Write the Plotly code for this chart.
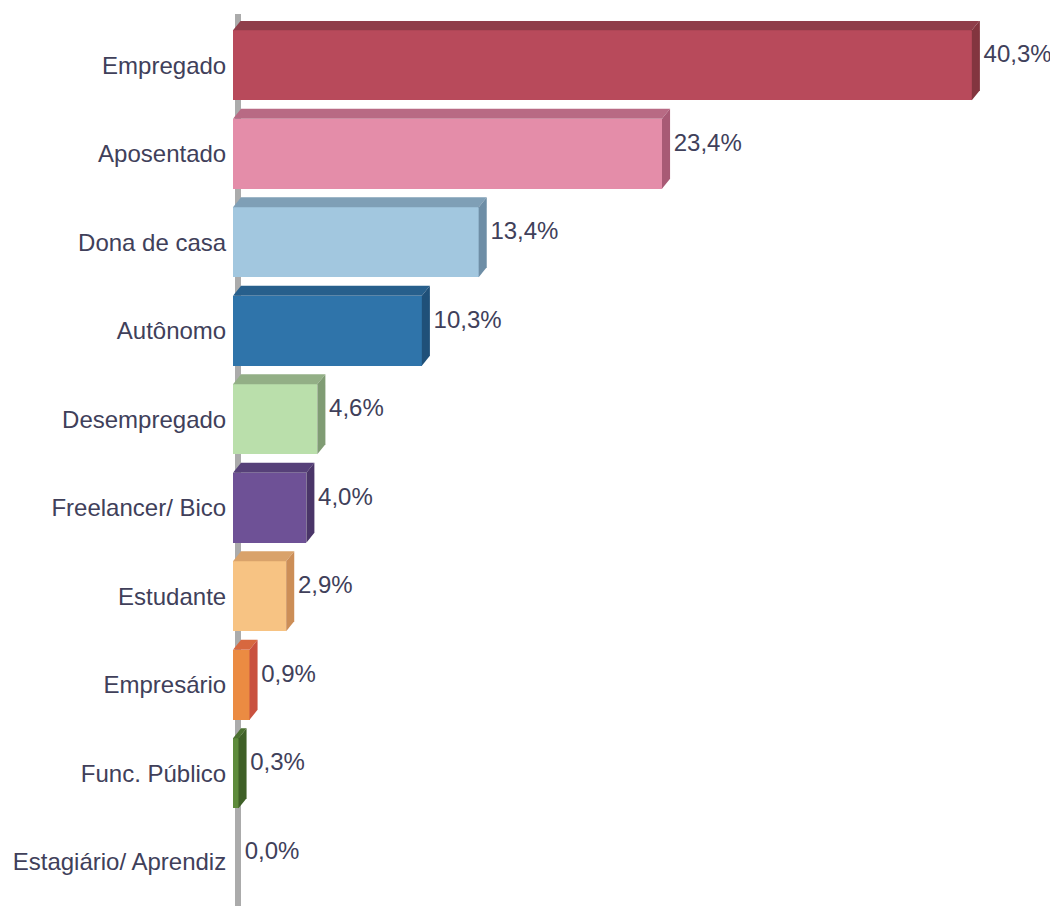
import plotly.graph_objects as go

categories = ["Empregado", "Aposentado", "Dona de casa", "Autônomo", "Desempregado",
              "Freelancer/ Bico", "Estudante", "Empresário", "Func. Público", "Estagiário/ Aprendiz"]
values = [40.3, 23.4, 13.4, 10.3, 4.6, 4.0, 2.9, 0.9, 0.3, 0.0]
labels = ["40,3%", "23,4%", "13,4%", "10,3%", "4,6%", "4,0%", "2,9%", "0,9%", "0,3%", "0,0%"]

front_colors = ["#B84A5B", "#E48DA9", "#A2C7DF", "#2F74AA", "#BADFAB",
                "#6E5196", "#F7C383", "#EB8B42", "#5E8B3C", "#E9A070"]
top_colors = ["#8F3E4A", "#B86A84", "#7F9FB6", "#275F8C", "#93AF86",
              "#564078", "#D9A26A", "#D7683F", "#4B7030", "#C98050"]
side_colors = ["#83353F", "#A85A75", "#6E8EA6", "#1F5079", "#809C74",
               "#4A3568", "#CC8E57", "#C9513F", "#3F6027", "#B87040"]

FONT = "Liberation Sans, Arial, sans-serif"
TXT = "#40405a"

bar_w = 0.79      # category units
dx = 0.44         # depth in value units
dy = 0.113        # depth in category units

ypos = list(range(len(categories)))

fig = go.Figure()

fig.add_trace(go.Bar(
    x=values, y=ypos, orientation="h", width=bar_w,
    marker=dict(color=front_colors, line=dict(width=0)),
    hoverinfo="skip", showlegend=False,
))

for i, v in enumerate(values):
    if v <= 0:
        continue
    y0 = i - bar_w / 2
    y1 = i + bar_w / 2
    # top face
    fig.add_trace(go.Scatter(
        x=[0, v, v + dx, dx, 0], y=[y0, y0, y0 - dy, y0 - dy, y0],
        fill="toself", fillcolor=top_colors[i], mode="lines", line=dict(width=0),
        hoverinfo="skip", showlegend=False,
    ))
    # side face
    fig.add_trace(go.Scatter(
        x=[v, v + dx, v + dx, v, v], y=[y0, y0 - dy, y1 - dy, y1, y0],
        fill="toself", fillcolor=side_colors[i], mode="lines", line=dict(width=0),
        hoverinfo="skip", showlegend=False,
    ))

fig.add_trace(go.Scatter(
    x=[v + dx + 0.2 for v in values], y=[i - 0.1 for i in ypos],
    mode="text", text=labels, textposition="middle right",
    textfont=dict(family=FONT, size=24, color=TXT),
    cliponaxis=False, hoverinfo="skip", showlegend=False,
))

fig.add_shape(type="line", xref="paper", yref="paper",
              x0=5 / 825, x1=5 / 825, y0=0, y1=1.008,
              line=dict(color="#ABABAB", width=6), layer="below")

# page body has an 8px margin: figure is sized/offset to compensate
fig.update_layout(
    width=1050, height=898,
    margin=dict(l=225, r=0, t=13, b=0),
    paper_bgcolor="white", plot_bgcolor="white",
    bargap=0,
    xaxis=dict(range=[0, 45], visible=False, fixedrange=True, automargin=False),
    yaxis=dict(
        range=[9.5, -0.5], tickmode="array", tickvals=ypos, ticktext=categories,
        showgrid=False, zeroline=False, showline=False, automargin=False,
        ticks="outside", ticklen=1, tickcolor="rgba(0,0,0,0)",
        tickfont=dict(family=FONT, size=24, color=TXT),
    ),
)

fig.write_html("out.html")
